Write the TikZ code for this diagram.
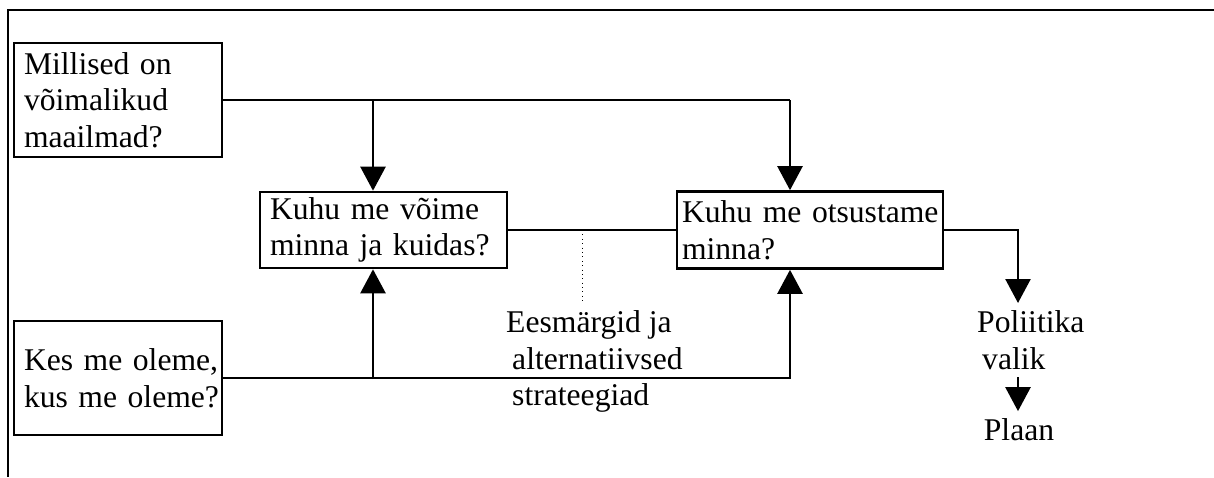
\documentclass[tikz,border=0pt]{standalone}
\usepackage{fontspec}
\setmainfont{Liberation Serif}
\usetikzlibrary{arrows.meta,positioning,calc}
\definecolor{ink}{RGB}{0,0,0}
\tikzset{
  qbox/.style={draw=ink,line width=1.5pt,inner xsep=0.2cm,inner ysep=0pt,align=left,
    font=\fontsize{18}{20.8}\selectfont,execute at begin node={\hyphenpenalty=10000 }},
  note/.style={inner sep=0.13cm,align=left,font=\fontsize{18}{20.8}\selectfont},
  arr/.style={-{Triangle[length=0.48cm,width=0.5cm]}},
}

\begin{document}
\begin{tikzpicture}[x=0.02cm,y=-0.02cm,line width=1.4pt,draw=ink]
\useasboundingbox (0,0) rectangle (1214,477);
\draw (1214,10) -- (8,10) -- (8,477);
% questions
\node[qbox,text width=3.76cm,minimum height=2.28cm] (worlds) at (118,100) {Millised~on\\võimalikud\\maailmad?};
\node[qbox,text width=3.76cm,minimum height=2.28cm] (where) at (118,378) {Kes~me~oleme,\\kus~me~oleme?};
\node[qbox,text width=4.54cm,minimum height=1.52cm] (reach) at (383.5,230) {Kuhu~me~võime\\minna~ja~kuidas?};
\node[qbox,inner xsep=0.1cm,text width=5.12cm,minimum height=1.54cm] (decide) at (810,230) {Kuhu~me~otsustame\\minna?};
% free texts
\node[note,anchor=north west] (goals) at (498.5,303) {Eesmärgid ja\\\hspace*{0.12cm}alternatiivsed\\\hspace*{0.12cm}strateegiad};
\node[note,anchor=north west] (policy) at (969.5,303) {Poliitika\\\hspace*{0.1cm}valik};
\node[note] (plan) at (1019,430) {Plaan};
\coordinate (colC) at (373,379);
\coordinate (colD) at (790,379);
\coordinate (colP) at (1018,0);
\coordinate (tap) at (582,230);
% connectors
\draw (worlds.east) -- (worlds.east -| colD);
\draw[arr] (worlds.east -| colC) -- (colC |- reach.north);
\draw[arr] (worlds.east -| colD) -- (colD |- decide.north);
\draw (where.east) -- (where.east -| colD);
\draw[arr] (colC) -- (colC |- reach.south);
\draw[arr] (colD) -- (colD |- decide.south);
\draw (reach.east) -- (decide.west);
\draw[dotted,line width=0.5pt] (tap) -- (tap |- goals.north);
\draw[arr] (decide.east) -| (colP |- policy.north);
\draw[arr] (colP |- policy.south) -- (colP |- plan.north);
\end{tikzpicture}
\end{document}
